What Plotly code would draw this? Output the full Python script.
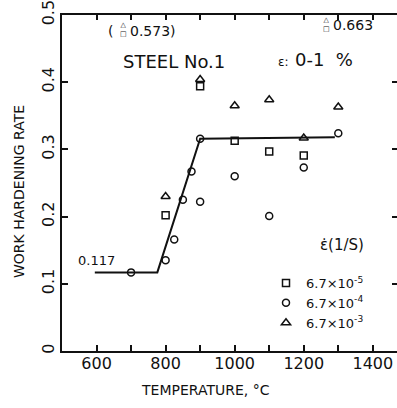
import plotly.graph_objects as go

# ---- data ----
temps_sq = [800, 900, 1000, 1100, 1200]
rate_sq = [0.202, 0.394, 0.313, 0.297, 0.291]

temps_ci = [700, 800, 825, 850, 875, 900, 900, 1000, 1100, 1200, 1300]
rate_ci = [0.117, 0.135, 0.166, 0.225, 0.267, 0.316, 0.222, 0.260, 0.201, 0.273, 0.324]

temps_tr = [800, 900, 1000, 1100, 1200, 1300]
rate_tr = [0.230, 0.404, 0.365, 0.374, 0.317, 0.363]

fit_T = [595, 776, 900, 1290]
fit_rate = [0.117, 0.117, 0.316, 0.318]

series_names = ["6.7×10<sup>-5</sup>", "6.7×10<sup>-4</sup>", "6.7×10<sup>-3</sup>"]

x_ticks = [600, 800, 1000, 1200, 1400]
x_minor_ticks = [600, 700, 800, 900, 1000, 1100, 1200, 1300, 1400]
y_ticks = [0, 0.1, 0.2, 0.3, 0.4, 0.5]
y_ticktext = ["0", "0.1", "0.2", "0.3", "0.4", "0.5"]

# ---- layout geometry (pixels) ----
W, H = 397, 408
L, R, T, B = 62, 0, 15, 57
PW, PH = W - L - R, H - T - B
FONT = "DejaVu Sans"
BLACK = "#111111"
X_RANGE = [500, 1470]


def xp(px):
    return (px - L) / PW


def yp(py):
    return (H - B - py) / PH


mk = dict(color=BLACK, width=1.5)
fig = go.Figure()
fig.add_trace(go.Scatter(x=fit_T, y=fit_rate, mode="lines",
                         line=dict(color=BLACK, width=2), showlegend=False,
                         hoverinfo="skip"))
fig.add_trace(go.Scatter(x=temps_sq, y=rate_sq, mode="markers", name=series_names[0],
                         marker=dict(symbol="square-open", size=7, color=BLACK, line=mk)))
fig.add_trace(go.Scatter(x=temps_ci, y=rate_ci, mode="markers", name=series_names[1],
                         marker=dict(symbol="circle-open", size=7, color=BLACK, line=mk)))
fig.add_trace(go.Scatter(x=temps_tr, y=rate_tr, mode="markers", name=series_names[2],
                         marker=dict(symbol="triangle-up-open", size=8, color=BLACK, line=mk)))
# invisible trace to carry top / right axes
fig.add_trace(go.Scatter(x=[600], y=[0], xaxis="x2", yaxis="y2", mode="markers",
                         marker=dict(opacity=0), showlegend=False, hoverinfo="skip"))

fig.update_layout(
    width=W, height=H,
    margin=dict(l=L, r=R, t=T, b=B, pad=0),
    paper_bgcolor="white", plot_bgcolor="white",
    font=dict(family=FONT, color=BLACK, size=15),
    xaxis=dict(range=X_RANGE, tickvals=x_ticks,
               ticks="inside", ticklen=6, tickwidth=1.5, tickcolor=BLACK,
               minor=dict(tickvals=x_minor_ticks, ticks="inside", ticklen=6,
                          tickwidth=1.5, tickcolor=BLACK, showgrid=False),
               showline=True, linewidth=2, linecolor=BLACK, showgrid=False,
               zeroline=False, tickfont=dict(size=16), ticklabelstandoff=-3,
               ticklabeloverflow="allow"),
    yaxis=dict(range=[0, 0.5], tickvals=y_ticks, ticktext=y_ticktext,
               ticks="inside", ticklen=6, tickwidth=1.5, tickcolor=BLACK,
               showline=True, linewidth=2, linecolor=BLACK, showgrid=False,
               zeroline=False, tickangle=-90, tickfont=dict(size=16),
               ticklabelstandoff=0, ticklabeloverflow="allow"),
    xaxis2=dict(range=X_RANGE, overlaying="x", side="top", tickvals=x_minor_ticks,
                showticklabels=False, ticks="inside", ticklen=5, tickwidth=1.5,
                tickcolor=BLACK, showline=True, linewidth=2, linecolor=BLACK,
                showgrid=False, zeroline=False),
    yaxis2=dict(range=[0, 0.5], overlaying="y", side="right", tickvals=[0.1, 0.2, 0.3, 0.4],
                showticklabels=False, ticks="inside", ticklen=5, tickwidth=1.5,
                tickcolor=BLACK, showline=False, showgrid=False, zeroline=False),
    legend=dict(x=xp(266), y=yp(268), xanchor="left", yanchor="top",
                bgcolor="rgba(0,0,0,0)", font=dict(size=13, family=FONT),
                tracegroupgap=0, itemwidth=30),
    showlegend=True,
)

ann = []


def add(text, px, py, size=14, xanchor="center", angle=0):
    ann.append(dict(text=text, x=xp(px), y=yp(py), xref="paper", yref="paper",
                    showarrow=False, xanchor=xanchor, yanchor="middle",
                    font=dict(size=size, family=FONT, color=BLACK), textangle=angle))


add("0.117", 96, 260, 13)
add("(", 110, 31, 14)
add("△<br>□", 123, 30, 7)
add("0.573)", 128, 31, 14, "left")
add("△<br>□", 326, 24, 7)
add("0.663", 331, 25, 14, "left")
add("STEEL No.1", 174, 62, 18)
add("ε:", 276, 62, 12, "left")
add("0-1\u00a0\u00a0%", 293, 60, 18, "left")
add("ε\u0307(1/S)", 342, 245, 15)
add("TEMPERATURE, °C", 205, 390, 14)
add("WORK HARDENING RATE", 19, 192, 14, angle=-90)
fig.update_layout(annotations=ann)

fig.write_html("out.html",
               config={"displayModeBar": False},
               post_script="document.body.style.margin='0px';"
                           "document.body.style.overflow='hidden';")
